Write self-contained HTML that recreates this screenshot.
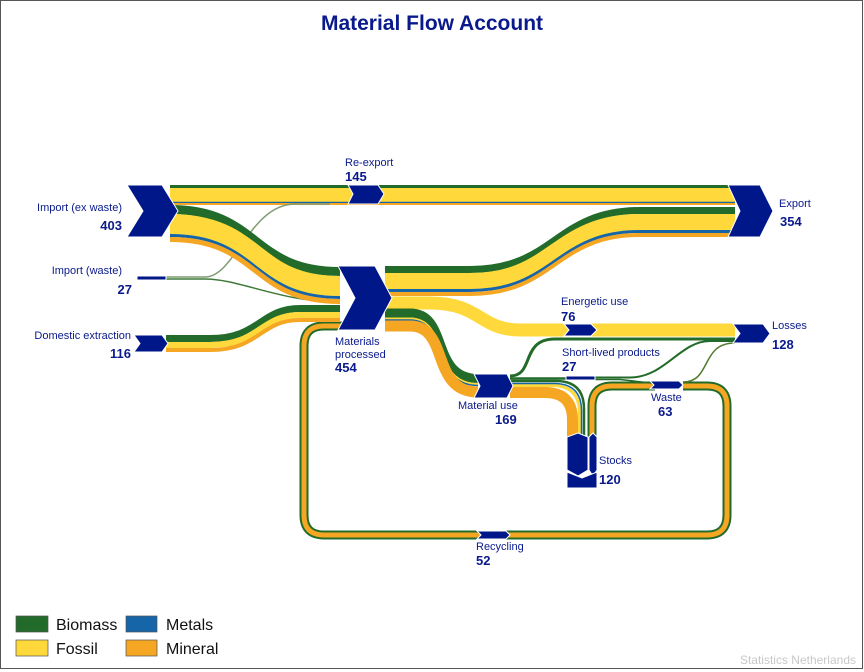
<!DOCTYPE html>
<html><head><meta charset="utf-8"><style>
html,body{margin:0;padding:0;background:#fff}
svg{display:block}
text{font-family:"Liberation Sans",Arial,sans-serif;fill:#0a1a8c}
.n{font-size:11px}
.v{font-size:13px;font-weight:bold}
</style></head><body>
<svg width="864" height="672" viewBox="0 0 864 672" xmlns="http://www.w3.org/2000/svg">
<rect x="0.5" y="0.5" width="862" height="668" fill="#fff" stroke="#555" stroke-width="1"/>
<text x="432" y="30" text-anchor="middle" style="font-size:21px;font-weight:bold;fill:#0a1a8c">Material Flow Account</text>

<g fill="none" stroke-linecap="butt">
<!-- recycling loop -->
<path d="M683 386 L707 386 Q727 386 727 406 L727 515 Q727 535 707 535 L324 535 Q304 535 304 515 L304 346 Q304 326 324 326 L345 326" stroke="#236B2A" stroke-width="9"/>
<path d="M683 386 L707 386 Q727 386 727 406 L727 515 Q727 535 707 535 L324 535 Q304 535 304 515 L304 346 Q304 326 324 326 L345 326" stroke="#F5A623" stroke-width="5"/>
<!-- stocks to waste -->
<path d="M592 437 L592 406 Q592 386 612 386 L655 386" stroke="#236B2A" stroke-width="9"/>
<path d="M592 437 L592 406 Q592 386 612 386 L655 386" stroke="#F5A623" stroke-width="5"/>

<!-- re-export / export top band -->
<path d="M170 186.5 H735" stroke="#236B2A" stroke-width="3"/>
<path d="M170 195 H735" stroke="#FFD93B" stroke-width="14"/>
<path d="M170 202.5 H735" stroke="#1565A8" stroke-width="1.5"/>
<path d="M170 204 H735" stroke="#F5A623" stroke-width="2"/>

<!-- import waste thin lines -->
<path d="M166 277 L205 277 C235 277 250 204 295 204 L330 204" stroke="#7f9a70" stroke-width="1.5"/>
<path d="M166 279 L205 279 C240 279 280 302 340 302" stroke="#3f7a3a" stroke-width="1.5"/>

<!-- import -> MP -->
<path d="M170 209.5 C260 209.5 250 271.5 340 271.5" stroke="#236B2A" stroke-width="9"/>
<path d="M170 224 C260 224 250 286 340 286" stroke="#FFD93B" stroke-width="20"/>
<path d="M170 235.5 C260 235.5 250 297.5 340 297.5" stroke="#1565A8" stroke-width="3"/>
<path d="M170 239.5 C260 239.5 250 301.5 340 301.5" stroke="#F5A623" stroke-width="5"/>

<!-- domestic extraction -> MP -->
<path d="M166 338.5 L210 338.5 C260 338.5 260 308.5 300 308.5 L340 308.5" stroke="#236B2A" stroke-width="7"/>
<path d="M166 345 L210 345 C260 345 260 315 300 315 L340 315" stroke="#FFD93B" stroke-width="6"/>
<path d="M166 350 L210 350 C260 350 260 320 300 320 L340 320" stroke="#F5A623" stroke-width="4"/>

<!-- MP -> export -->
<path d="M385 269.5 L470 269.5 C555 269.5 555 210.5 640 210.5 L735 210.5" stroke="#236B2A" stroke-width="7"/>
<path d="M385 281 L470 281 C555 281 555 222 640 222 L735 222" stroke="#FFD93B" stroke-width="16"/>
<path d="M385 290.5 L470 290.5 C555 290.5 555 231.5 640 231.5 L735 231.5" stroke="#1565A8" stroke-width="3"/>
<path d="M385 294 L470 294 C555 294 555 235 640 235 L735 235" stroke="#F5A623" stroke-width="4"/>

<!-- MP -> energetic -> losses -->
<path d="M385 303 L430 303 C480 303 480 330 520 330 L735 330" stroke="#FFD93B" stroke-width="13"/>

<!-- MP -> material use -->
<path d="M385 313 L410 313 C450 313 430 378.5 478 378.5" stroke="#236B2A" stroke-width="9"/>
<path d="M385 318.5 L410 318.5 C450 318.5 430 384 478 384" stroke="#FFD93B" stroke-width="2"/>
<path d="M385 320 L410 320 C450 320 430 385.5 478 385.5" stroke="#1565A8" stroke-width="1.5"/>
<path d="M385 326 L410 326 C450 326 430 392 478 392" stroke="#F5A623" stroke-width="11"/>

<!-- material use -> stocks -->
<path d="M510 392.5 L545 392.5 Q572.5 392.5 572.5 420 L572.5 440" stroke="#F5A623" stroke-width="11"/>
<path d="M510 385.5 L552 385.5 Q579.5 385.5 579.5 413 L579.5 440" stroke="#FFD93B" stroke-width="3"/>
<path d="M510 383.5 L554 383.5 Q581.5 383.5 581.5 411 L581.5 440" stroke="#1565A8" stroke-width="1.5"/>
<path d="M510 381 L556 381 Q584 381 584 409 L584 440" stroke="#236B2A" stroke-width="2.5"/>

<!-- material use -> losses (green) -->
<path d="M510 376 C535 376 520 339 555 339 L735 339" stroke="#236B2A" stroke-width="3"/>
<!-- short lived -->
<path d="M510 378.5 L566 378.5" stroke="#236B2A" stroke-width="2.5"/>
<path d="M595 377.5 L630 377.5 C665 377.5 680 341 710 341 L735 341" stroke="#236B2A" stroke-width="2"/>
<path d="M595 379.5 L620 379.5 L651 383" stroke="#236B2A" stroke-width="1.5"/>
<!-- waste -> losses -->
<path d="M683 382 C712 382 700 343 735 343" stroke="#4f7a2a" stroke-width="1.5"/>
</g>

<!-- nodes -->
<g fill="#00178A" stroke="#fff" stroke-width="1">
<polygon points="127,185 162,185 178,211 162,237 127,237 143,211"/>
<polygon points="348,185 378,185 384,194 378,204 348,204 353,194"/>
<polygon points="728,185 760,185 773,211 760,237 728,237 740,211"/>
<polygon points="137,276 166,276 166,280 137,280"/>
<polygon points="134,335 162,335 168,343.5 162,352 134,352 140,343.5"/>
<polygon points="338,266 375,266 392,298 375,330 338,330 355,298"/>
<polygon points="564,324 591,324 597,330 591,336 564,336 569,330"/>
<polygon points="733,324 763,324 770,333.5 763,343 733,343 740,333.5"/>
<polygon points="474,374 507,374 513,386 507,398 474,398 480,386"/>
<polygon points="566,376 595,376 595,380 566,380"/>
<polygon points="650,381 679,381 683,385 679,389 650,389 654,385"/>
<polygon points="477,531 506,531 510,535 506,539 477,539 481,535"/>
<polygon points="567,437 578,433 588,437 588,470 578,476 567,470"/>
<polygon points="589,437 593,433 597,437 597,470 593,476 589,470"/>
<polygon points="567,472 582,478 597,472 597,488 567,488"/>
</g>

<!-- labels -->
<text class="n" x="345" y="166">Re-export</text>
<text class="v" x="345" y="181">145</text>
<text class="n" x="122" y="211" text-anchor="end">Import (ex waste)</text>
<text class="v" x="122" y="230" text-anchor="end">403</text>
<text class="n" x="779" y="207">Export</text>
<text class="v" x="780" y="226">354</text>
<text class="n" x="122" y="274" text-anchor="end">Import (waste)</text>
<text class="v" x="132" y="294" text-anchor="end">27</text>
<text class="n" x="131" y="339" text-anchor="end">Domestic extraction</text>
<text class="v" x="131" y="358" text-anchor="end">116</text>
<text class="n" x="335" y="345">Materials</text>
<text class="n" x="335" y="358">processed</text>
<text class="v" x="335" y="372">454</text>
<text class="n" x="561" y="305">Energetic use</text>
<text class="v" x="561" y="321">76</text>
<text class="n" x="772" y="329">Losses</text>
<text class="v" x="772" y="349">128</text>
<text class="n" x="562" y="356">Short-lived products</text>
<text class="v" x="562" y="371">27</text>
<text class="n" x="458" y="409">Material use</text>
<text class="v" x="495" y="424">169</text>
<text class="n" x="651" y="401">Waste</text>
<text class="v" x="658" y="416">63</text>
<text class="n" x="599" y="464">Stocks</text>
<text class="v" x="599" y="484">120</text>
<text class="n" x="476" y="550">Recycling</text>
<text class="v" x="476" y="565">52</text>

<!-- legend -->
<rect x="16" y="616" width="32" height="16" fill="#236B2A" stroke="#555" stroke-width="0.7"/>
<rect x="16" y="640" width="32" height="16" fill="#FFD93B" stroke="#555" stroke-width="0.7"/>
<rect x="126" y="616" width="31" height="16" fill="#1565A8" stroke="#555" stroke-width="0.7"/>
<rect x="126" y="640" width="31" height="16" fill="#F5A623" stroke="#555" stroke-width="0.7"/>
<text x="56" y="630" style="font-size:16px;fill:#111">Biomass</text>
<text x="56" y="654" style="font-size:16px;fill:#111">Fossil</text>
<text x="166" y="630" style="font-size:16px;fill:#111">Metals</text>
<text x="166" y="654" style="font-size:16px;fill:#111">Mineral</text>
<text x="856" y="664" text-anchor="end" style="font-size:12px;fill:#c8c8c8">Statistics Netherlands</text>
</svg>
</body></html>
